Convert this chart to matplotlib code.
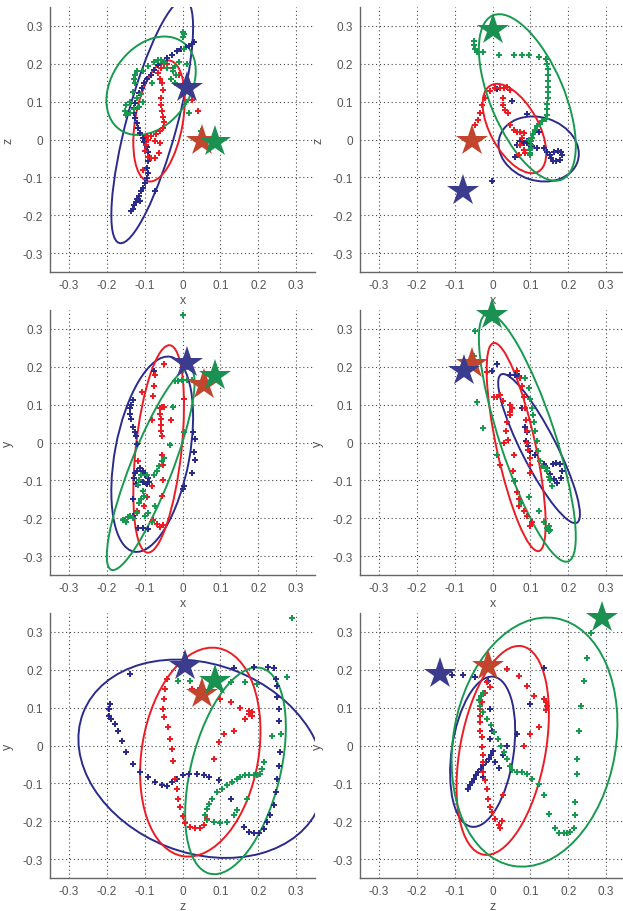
import numpy as np
import matplotlib
matplotlib.use('Agg')
import matplotlib.pyplot as plt
from matplotlib.patches import Ellipse

plt.rcParams['font.family'] = ['Liberation Sans', 'DejaVu Sans']

BLUE = '#2b2b8c'
RED = '#ec1c24'
GREEN = '#179a4f'
STAR_BLUE = '#3c3c8e'
STAR_RED = '#c2452e'
STAR_GREEN = '#1a9150'

ticks = [-0.3, -0.2, -0.1, 0, 0.1, 0.2, 0.3]
tick_labels = ['-0.3', '-0.2', '-0.1', '0', '0.1', '0.2', '0.3']

# ---- panel 1: x / z ----
p1_blue_x = [-0.135, -0.132, -0.127, -0.123, -0.119, -0.114, -0.109, -0.104, -0.098, -0.095, -0.091, -0.093, -0.090, -0.088,
             -0.090, -0.095, -0.102, -0.105, -0.112, -0.117, -0.121, -0.125, -0.127, -0.128, -0.125, -0.121, -0.116, -0.108,
             -0.102, -0.093, -0.084, -0.075, -0.065, -0.052, -0.040, -0.027, -0.015, -0.003, 0.008, 0.016, 0.025, 0.031,
             -0.073, -0.112]
p1_blue_y = [-0.190, -0.183, -0.174, -0.166, -0.157, -0.148, -0.137, -0.127, -0.115, -0.102, -0.089, -0.074, -0.058, -0.045,
             -0.032, -0.019, -0.007, 0.005, 0.017, 0.030, 0.043, 0.056, 0.070, 0.083, 0.096, 0.109, 0.122, 0.136,
             0.149, 0.160, 0.171, 0.184, 0.196, 0.204, 0.215, 0.224, 0.233, 0.240, 0.245, 0.248, 0.252, 0.258,
             -0.137, -0.162]
p1_red_x = [0.042, 0.025, 0.010, 0.001, -0.010, -0.025, -0.040, -0.050, -0.058, -0.065, -0.060, -0.055, -0.052, -0.058,
            -0.057, -0.055, -0.052, -0.050, -0.052, -0.060, -0.070, -0.082, -0.092, -0.097, -0.100, -0.092, -0.083, -0.073,
            -0.062, -0.060, -0.072, -0.095, -0.105]
p1_red_y = [0.075, 0.105, 0.130, 0.145, 0.170, 0.190, 0.200, 0.200, 0.190, 0.175, 0.160, 0.150, 0.130, 0.110,
            0.090, 0.075, 0.060, 0.045, 0.030, 0.022, 0.015, 0.008, 0.000, -0.015, -0.030, -0.045, -0.048, -0.048,
            -0.035, -0.010, -0.005, 0.010, -0.080]
p1_green_x = [0.050, 0.016, 0.008, 0.005, 0.010, 0.012, 0.005, 0.000, 0.002, 0.005, -0.010, -0.020, -0.025, -0.030,
              -0.040, -0.050, -0.058, -0.065, -0.075, -0.090, -0.105, -0.120, -0.125, -0.128, -0.125, -0.132, -0.140,
              -0.148, -0.152, -0.150, -0.140, -0.128, -0.115, -0.105, -0.110, -0.120, -0.020, -0.018, -0.080]
p1_green_y = [0.023, 0.070, 0.100, 0.130, 0.150, 0.200, 0.240, 0.270, 0.285, 0.280, 0.205, 0.195, 0.180, 0.160,
              0.190, 0.205, 0.210, 0.210, 0.205, 0.195, 0.180, 0.180, 0.170, 0.160, 0.150, 0.125, 0.100,
              0.090, 0.075, 0.065, 0.070, 0.080, 0.085, 0.100, 0.120, 0.110, 0.150, 0.170, 0.150]
# ellipse: centre x, centre y, half extent x, half extent y, correlation
p1_ell_blue = [-0.080, 0.048, 0.108, 0.322, 0.77]
p1_ell_red = [-0.062, 0.049, 0.068, 0.160, 0.35]
p1_ell_green = [-0.083, 0.142, 0.118, 0.130, 0.30]
p1_star_blue = [0.012, 0.136]
p1_star_red = [0.051, -0.005]
p1_star_green = [0.087, -0.007]

# ---- panel 2: x / z ----
p2_blue_x = [-0.002, 0.013, 0.051, 0.091, 0.122, 0.065, 0.073, 0.082, 0.091, 0.096, 0.104, 0.118, 0.135, 0.145, 0.151,
             0.155, 0.160, 0.168, 0.177, 0.184, 0.182, 0.172, 0.163, 0.060]
p2_blue_y = [-0.109, 0.134, 0.103, 0.067, 0.021, -0.014, -0.005, -0.010, -0.005, -0.014, -0.018, -0.023, -0.023, -0.032,
             -0.041, -0.050, -0.058, -0.058, -0.054, -0.040, -0.032, -0.030, -0.034, -0.045]
p2_red_x = [-0.046, -0.037, -0.033, -0.028, -0.019, -0.006, 0.007, 0.020, 0.030, 0.038, 0.045, 0.027, 0.029, 0.034, 0.042,
            0.047, 0.056, 0.065, 0.073, 0.082, 0.078, 0.073, 0.082, 0.086, 0.070]
p2_red_y = [0.039, 0.052, 0.070, 0.092, 0.109, 0.127, 0.136, 0.137, 0.135, 0.140, 0.131, 0.109, 0.092, 0.078, 0.070,
            0.039, 0.026, 0.021, 0.021, 0.017, 0.004, -0.014, -0.027, -0.035, -0.040]
p2_green_x = [-0.048, -0.050, -0.046, -0.040, -0.024, 0.016, 0.056, 0.078, 0.096, 0.122, 0.140, 0.145, 0.146, 0.147,
              0.147, 0.147, 0.146, 0.146, 0.145, 0.145, 0.144, 0.140, 0.132, 0.125, 0.118, 0.112, 0.108, 0.105,
              0.103, 0.102, 0.101, 0.100, 0.100, 0.099, 0.097]
p2_green_y = [0.260, 0.250, 0.240, 0.230, 0.232, 0.224, 0.224, 0.222, 0.222, 0.219, 0.212, 0.200, 0.185, 0.170,
              0.155, 0.140, 0.125, 0.110, 0.095, 0.080, 0.065, 0.055, 0.048, 0.042, 0.035, 0.025, 0.015, 0.005,
              -0.005, -0.015, -0.022, -0.028, -0.035, -0.040, 0.000]
p2_ell_blue = [0.122, -0.025, 0.106, 0.086, -0.15]
p2_ell_red = [0.058, 0.029, 0.084, 0.118, -0.55]
p2_ell_green = [0.092, 0.111, 0.128, 0.220, -0.58]
p2_star_blue = [-0.077, -0.137]
p2_star_red = [-0.055, -0.005]
p2_star_green = [0.000, 0.290]

# ---- panel 3: x / y ----
p3_blue_x = [-0.074, -0.130, -0.135, -0.140, -0.140, -0.136, -0.130, -0.126, -0.122, -0.120, -0.125, -0.128, -0.120,
             -0.112, -0.105, -0.098, -0.092, -0.088, -0.094, -0.104, -0.114, -0.122, -0.130, -0.118, -0.105, -0.092,
             0.029, 0.032, 0.031, 0.032, 0.025, 0.005, 0.000, -0.130]
p3_blue_y = [0.190, 0.111, 0.100, 0.090, 0.076, 0.063, 0.042, 0.029, 0.016, -0.005, -0.080, -0.095, -0.075,
             -0.068, -0.075, -0.085, -0.095, -0.105, -0.110, -0.105, -0.100, -0.110, -0.150, -0.225, -0.225, -0.228,
             0.029, 0.010, -0.025, -0.047, -0.080, -0.115, -0.123, -0.195]
p3_red_x = [-0.050, -0.073, -0.075, -0.077, -0.108, -0.060, -0.055, -0.048, -0.060, -0.058, -0.057, -0.056, -0.055,
            -0.080, -0.117, -0.095, -0.055, -0.052, -0.052, -0.080, -0.095, -0.103, -0.120, -0.098, -0.077, -0.068,
            -0.060, -0.052, 0.003, -0.055, -0.030]
p3_red_y = [0.207, 0.177, 0.150, 0.124, 0.133, 0.090, 0.095, 0.095, 0.075, 0.062, 0.045, 0.030, 0.016,
            0.060, -0.050, -0.085, -0.032, -0.060, -0.100, -0.115, -0.145, -0.167, -0.180, -0.195, -0.206, -0.215,
            -0.222, -0.218, 0.116, -0.140, 0.060]
p3_green_x = [0.001, -0.020, -0.011, -0.002, 0.011, 0.025, -0.024, 0.003, -0.033, -0.050, -0.055, -0.063, -0.068,
              -0.075, -0.095, -0.110, -0.115, -0.118, -0.105, -0.103, -0.110, -0.115, -0.073, -0.090, -0.100, -0.130,
              -0.145, -0.152, -0.158, -0.150, -0.140, -0.120, -0.080]
p3_green_y = [0.337, 0.162, 0.163, 0.165, 0.165, 0.166, 0.094, 0.029, -0.006, -0.040, -0.050, -0.062, -0.076,
              -0.085, -0.085, -0.085, -0.098, -0.112, -0.128, -0.140, -0.150, -0.160, -0.167, -0.185, -0.195, -0.200,
              -0.198, -0.205, -0.205, -0.210, -0.195, -0.185, -0.210]
p3_ell_blue = [-0.080, -0.031, 0.108, 0.258, 0.38]
p3_ell_red = [-0.063, -0.017, 0.067, 0.274, 0.42]
p3_ell_green = [-0.084, -0.071, 0.116, 0.266, 0.86]
p3_star_blue = [0.012, 0.211]
p3_star_red = [0.058, 0.152]
p3_star_green = [0.087, 0.175]

# ---- panel 4: x / y ----
p4_blue_x = [0.012, -0.002, 0.047, 0.060, 0.069, 0.078, 0.100, 0.087, 0.091, 0.089, 0.093, 0.100, 0.113, 0.126, 0.135,
             0.144, 0.153, 0.162, 0.171, 0.180, 0.184, 0.177, 0.168, 0.159]
p4_blue_y = [0.207, 0.190, 0.179, 0.177, 0.176, 0.090, 0.116, 0.042, 0.029, 0.003, -0.010, -0.023, -0.032, -0.050,
             -0.058, -0.068, -0.084, -0.097, -0.106, -0.093, -0.076, -0.058, -0.054, -0.057]
p4_red_x = [-0.015, 0.003, 0.012, 0.020, 0.029, 0.047, 0.051, 0.045, 0.047, 0.038, 0.035, 0.042, 0.056, 0.055, 0.060,
            0.065, 0.069, 0.069, 0.082, 0.091, 0.104, 0.100, 0.065, 0.072, 0.078, 0.082, 0.085, 0.088, 0.090, 0.092,
            0.095, 0.098, 0.100, 0.098, 0.030, 0.020]
p4_red_y = [0.185, 0.120, 0.120, 0.125, 0.110, 0.100, 0.090, 0.080, 0.072, 0.055, 0.030, 0.007, -0.032, -0.075, -0.102,
            -0.130, -0.150, -0.167, -0.180, -0.195, -0.210, -0.220, 0.190, 0.170, 0.150, 0.120, 0.090, 0.060, 0.030,
            0.000, -0.020, -0.040, -0.060, -0.080, 0.000, -0.060]
p4_green_x = [-0.046, -0.050, -0.042, -0.024, 0.012, 0.087, 0.096, 0.100, 0.104, 0.107, 0.109, 0.112, 0.117, 0.121,
              0.126, 0.132, 0.140, 0.145, 0.150, 0.153, 0.156, 0.096, 0.056, 0.122, 0.135, 0.143, 0.148, 0.152, 0.150,
              0.075]
p4_green_y = [0.294, 0.229, 0.107, 0.037, -0.032, 0.170, 0.143, 0.115, 0.090, 0.072, 0.055, 0.030, 0.003, -0.023,
              -0.050, -0.063, -0.068, -0.075, -0.090, -0.100, -0.115, -0.145, -0.102, -0.181, -0.210, -0.226, -0.235,
              -0.230, -0.220, -0.160]
p4_ell_blue = [0.123, -0.016, 0.108, 0.197, -0.88]
p4_ell_red = [0.0625, -0.012, 0.078, 0.275, -0.74]
p4_ell_green = [0.092, 0.013, 0.128, 0.328, -0.80]
p4_star_blue = [-0.075, 0.190]
p4_star_red = [-0.055, 0.207]
p4_star_green = [-0.002, 0.337]

# ---- panel 5: z / y ----
p5_blue_x = [-0.139, -0.192, -0.195, -0.195, -0.190, -0.179, -0.170, -0.161, -0.148, -0.130, -0.112, -0.090, -0.073,
             -0.055, -0.042, -0.028, -0.015, 0.000, 0.016, 0.038, 0.056, 0.069, 0.096, 0.127, 0.162, 0.175, 0.188,
             0.201, 0.214, 0.223, 0.232, 0.241, 0.246, 0.250, 0.255, 0.258, 0.260, 0.255, 0.255, 0.250, 0.250, 0.246,
             0.242, 0.225, 0.190, 0.135]
p5_blue_y = [0.189, 0.110, 0.096, 0.079, 0.070, 0.057, 0.039, 0.013, -0.018, -0.048, -0.070, -0.083, -0.096,
             -0.105, -0.107, -0.096, -0.088, -0.079, -0.075, -0.075, -0.079, -0.083, -0.092, -0.140, -0.215, -0.228,
             -0.230, -0.230, -0.220, -0.202, -0.184, -0.158, -0.123, -0.088, -0.053, -0.018, 0.030, 0.066, 0.096,
             0.127, 0.158, 0.175, 0.206, 0.208, 0.208, 0.206]
p5_red_x = [-0.006, -0.042, -0.046, -0.050, -0.052, -0.050, -0.037, -0.033, -0.028, -0.024, -0.020, -0.015, -0.011,
            -0.006, 0.000, 0.007, 0.020, 0.034, 0.047, 0.056, 0.065, 0.082, 0.096, 0.109, 0.135, 0.166, 0.175, 0.184,
            0.184, 0.175, 0.153, 0.127, 0.100, 0.025, 0.047]
p5_red_y = [0.215, 0.175, 0.149, 0.123, 0.097, 0.075, 0.048, 0.018, -0.010, -0.040, -0.088, -0.114, -0.140,
            -0.162, -0.185, -0.206, -0.215, -0.219, -0.217, -0.210, -0.193, -0.035, 0.009, 0.031, 0.039, 0.070, 0.083,
            0.079, 0.088, 0.092, 0.100, 0.114, 0.123, 0.149, 0.151]
p5_green_x = [0.290, 0.277, 0.197, 0.166, 0.127, 0.020, -0.011, 0.260, 0.237, 0.215, 0.210, 0.205, 0.197, 0.188,
              0.175, 0.166, 0.153, 0.144, 0.131, 0.118, 0.104, 0.091, 0.078, 0.069, 0.065, 0.060, 0.065, 0.082, 0.100,
              0.117, 0.135, 0.144, 0.171]
p5_green_y = [0.338, 0.180, 0.162, 0.167, 0.167, 0.171, 0.171, 0.031, 0.026, -0.044, -0.061, -0.074, -0.079, -0.079,
              -0.079, -0.079, -0.083, -0.088, -0.096, -0.105, -0.114, -0.123, -0.140, -0.154, -0.167, -0.184, -0.197,
              -0.203, -0.205, -0.203, -0.184, -0.171, -0.140]
p5_ell_blue = [0.050, -0.035, 0.325, 0.262, -0.20]
p5_ell_red = [0.047, -0.0175, 0.159, 0.276, 0.20]
p5_ell_green = [0.140, -0.067, 0.133, 0.273, 0.42]
p5_star_blue = [0.007, 0.211]
p5_star_red = [0.051, 0.136]
p5_star_green = [0.087, 0.171]

# ---- panel 6: z / y ----
p6_blue_x = [-0.108, -0.077, -0.046, -0.011, -0.006, -0.002, -0.006, 0.038, 0.065, 0.100, 0.135, 0.029, -0.064, -0.060,
             -0.055, -0.049, -0.044, -0.038, -0.031, -0.024, -0.017, -0.010, -0.004, 0.002, -0.024, 0.007, 0.018]
p6_blue_y = [0.186, 0.186, 0.182, 0.171, 0.096, 0.039, 0.018, 0.000, 0.031, 0.110, 0.206, -0.026, -0.114, -0.105,
             -0.097, -0.088, -0.079, -0.070, -0.061, -0.052, -0.043, -0.035, -0.026, -0.015, -0.083, -0.044, -0.060]
p6_red_x = [-0.015, -0.006, 0.038, 0.069, 0.091, 0.109, 0.135, 0.140, 0.144, 0.142, 0.122, 0.100, 0.082, 0.029, -0.020,
            -0.028, -0.033, -0.033, -0.033, -0.033, -0.028, -0.028, -0.024, -0.024, -0.024, -0.020, -0.015, -0.011,
            -0.006, -0.002, 0.007, 0.016, 0.020, 0.025]
p6_red_y = [0.167, 0.154, 0.202, 0.184, 0.158, 0.132, 0.123, 0.114, 0.105, 0.095, 0.048, 0.031, 0.000, -0.132, 0.140,
            0.114, 0.096, 0.079, 0.061, 0.039, 0.022, -0.004, -0.026, -0.044, -0.070, -0.092, -0.114, -0.140, -0.162,
            -0.175, -0.193, -0.210, -0.219, -0.200]
p6_green_x = [0.259, 0.250, 0.242, 0.233, 0.228, 0.224, 0.224, 0.219, 0.219, 0.215, 0.206, 0.197, 0.188, 0.175, 0.166,
              0.149, 0.135, 0.122, 0.104, 0.091, 0.078, 0.065, 0.051, 0.045, 0.038, 0.030, 0.022, 0.014, 0.005, -0.005,
              -0.015, -0.025, -0.033, -0.035, -0.030, -0.024]
p6_green_y = [0.298, 0.232, 0.171, 0.105, 0.039, -0.035, -0.075, -0.149, -0.184, -0.219, -0.228, -0.230, -0.230,
              -0.230, -0.219, -0.180, -0.132, -0.101, -0.088, -0.075, -0.070, -0.070, -0.066, -0.053, -0.035, -0.018,
              0.000, 0.018, 0.035, 0.053, 0.070, 0.088, 0.105, 0.120, 0.132, 0.140]
p6_ell_blue = [-0.026, -0.0165, 0.086, 0.1985, 0.28]
p6_ell_red = [0.027, -0.013, 0.122, 0.276, 0.35]
p6_ell_green = [0.111, 0.009, 0.219, 0.329, 0.15]
p6_star_blue = [-0.139, 0.189]
p6_star_red = [-0.011, 0.211]
p6_star_green = [0.288, 0.338]

panels = [
    ('x', 'z', (p1_blue_x, p1_blue_y), (p1_red_x, p1_red_y), (p1_green_x, p1_green_y),
     (p1_ell_blue, p1_ell_red, p1_ell_green), (p1_star_blue, p1_star_red, p1_star_green)),
    ('x', 'z', (p2_blue_x, p2_blue_y), (p2_red_x, p2_red_y), (p2_green_x, p2_green_y),
     (p2_ell_blue, p2_ell_red, p2_ell_green), (p2_star_blue, p2_star_red, p2_star_green)),
    ('x', 'y', (p3_blue_x, p3_blue_y), (p3_red_x, p3_red_y), (p3_green_x, p3_green_y),
     (p3_ell_blue, p3_ell_red, p3_ell_green), (p3_star_blue, p3_star_red, p3_star_green)),
    ('x', 'y', (p4_blue_x, p4_blue_y), (p4_red_x, p4_red_y), (p4_green_x, p4_green_y),
     (p4_ell_blue, p4_ell_red, p4_ell_green), (p4_star_blue, p4_star_red, p4_star_green)),
    ('z', 'y', (p5_blue_x, p5_blue_y), (p5_red_x, p5_red_y), (p5_green_x, p5_green_y),
     (p5_ell_blue, p5_ell_red, p5_ell_green), (p5_star_blue, p5_star_red, p5_star_green)),
    ('z', 'y', (p6_blue_x, p6_blue_y), (p6_red_x, p6_red_y), (p6_green_x, p6_green_y),
     (p6_ell_blue, p6_ell_red, p6_ell_green), (p6_star_blue, p6_star_red, p6_star_green)),
]


def make_ellipse(params, color):
    cx, cy, hx, hy, rho = params
    m = np.array([[hx * hx, rho * hx * hy], [rho * hx * hy, hy * hy]])
    vals, vecs = np.linalg.eigh(m)
    ang = np.degrees(np.arctan2(vecs[1, 1], vecs[0, 1]))
    return Ellipse((cx, cy), 2 * np.sqrt(vals[1]), 2 * np.sqrt(vals[0]), angle=ang,
                   fill=False, edgecolor=color, lw=1.4, zorder=3)


fig = plt.figure(figsize=(6.23, 9.12), dpi=100)
col_left = [50 / 623, 360 / 623]
row_bottom = [1 - 273 / 912, 1 - 576 / 912, 1 - 879 / 912]
w = 265 / 623
h = 265 / 912

for i, (xl, yl, blue, red, green, ells, stars) in enumerate(panels):
    ax = fig.add_axes([col_left[i % 2], row_bottom[i // 2], w, h])
    ax.set_xlim(-0.35, 0.35)
    ax.set_ylim(-0.35, 0.35)
    ax.set_xticks(ticks)
    ax.set_yticks(ticks)
    ax.set_xticklabels(tick_labels)
    ax.set_yticklabels(tick_labels)
    ax.grid(True, linestyle=(0, (1, 2.5)), color='#444444', lw=0.8)
    ax.set_axisbelow(True)
    for s in ['top', 'right']:
        ax.spines[s].set_visible(False)
    for s in ['left', 'bottom']:
        ax.spines[s].set_color('#666666')
        ax.spines[s].set_linewidth(1.0)
    ax.tick_params(direction='in', length=0, labelsize=8.5, colors='#555555', pad=5)
    ax.set_xlabel(xl, fontsize=9, color='#555555', labelpad=2)
    ax.set_ylabel(yl, fontsize=9, color='#555555', labelpad=6)

    for e, c in zip(ells, [BLUE, RED, GREEN]):
        ax.add_patch(make_ellipse(e, c))

    for (px, py), c in zip([blue, red, green], [BLUE, RED, GREEN]):
        ax.plot(px, py, linestyle='none', marker='P', ms=4, mew=0, color=c, zorder=4, clip_on=False)

    for st, c in zip([stars[1], stars[2], stars[0]], [STAR_RED, STAR_GREEN, STAR_BLUE]):
        ax.plot(st[0], st[1], marker='*', ms=24, mew=0, color=c, zorder=5, clip_on=False)

fig.savefig('out.png', dpi=100)
